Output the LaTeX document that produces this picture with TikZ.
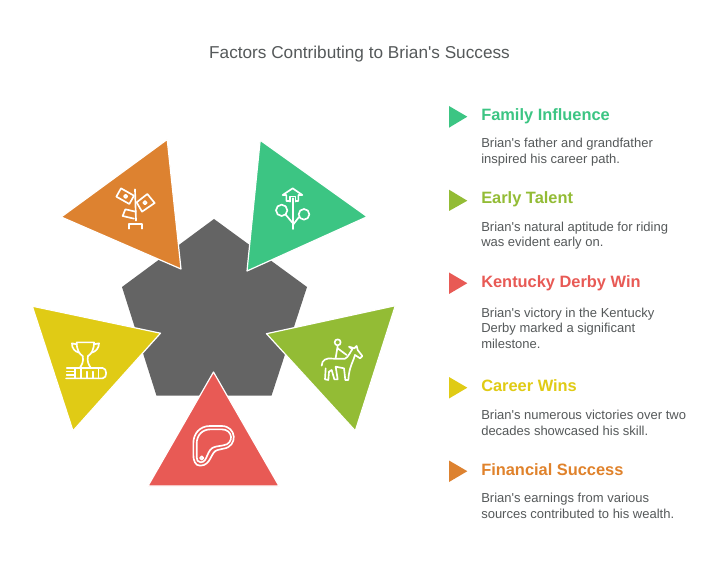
\documentclass[tikz,border=0pt]{standalone}
\usepackage{fontspec}
\setmainfont[Ligatures=TeXOff]{Liberation Sans}
\definecolor{cgreen}{HTML}{3CC583}
\definecolor{clime}{HTML}{93BC35}
\definecolor{cred}{HTML}{E85A55}
\definecolor{cyellow}{HTML}{E0CB15}
\definecolor{corange}{HTML}{DD8230}
\definecolor{cgrey}{HTML}{646464}
\definecolor{ctext}{HTML}{55595A}
\tikzset{
  tri/.style={draw=white,line width=0.9pt,line join=round},
  ico/.style={draw=white,line width=1.25pt,line cap=round,line join=round},
  icon/.style={x=0.25pt,y=-0.25pt},
  head/.style={anchor=base west,inner sep=0pt,font=\fontsize{12.3pt}{14pt}\selectfont\bfseries},
  body/.style={anchor=base west,inner sep=0pt,text=ctext,font=\fontsize{9.75pt}{11pt}\selectfont},
}
\begin{document}
\begin{tikzpicture}[x=0.75pt,y=-0.75pt]
\useasboundingbox (0,0) rectangle (720,584);
\fill[white] (0,0) rectangle (720,584);
\node[anchor=base,inner sep=0pt,text=ctext,font=\fontsize{12.9pt}{15pt}\selectfont] (title) at (359.5,58.5) {Factors Contributing to Brian's Success};
% pentagon
\fill[cgrey] (214,219) -- (307,287) -- (271.5,395.7) -- (156.5,395.7) -- (122,287) -- cycle;
% triangles
\filldraw[tri,fill=corange] (167.2,139.5) -- (61.2,217) -- (181,269) -- cycle;
\filldraw[tri,fill=cgreen] (260.2,140.2) -- (367.2,216.7) -- (247,271) -- cycle;
\filldraw[tri,fill=clime] (395.3,305.7) -- (355.3,430.8) -- (266.5,333.7) -- cycle;
\filldraw[tri,fill=cred] (213.5,372) -- (279,486) -- (148,486) -- cycle;
\filldraw[tri,fill=cyellow] (32.3,306.2) -- (73,430.8) -- (160.5,333.2) -- cycle;
% orange icon
\begin{scope}[shift={(60,130)},icon]
\draw[ico] (183,175) -- (222,197) -- (208,222) -- (169,200) -- cycle;
\draw[ico] (197,199) circle (5);
\draw[ico] (262,192) -- (284,219) -- (246,245) -- (230,217) -- cycle;
\draw[ico] (255,218) circle (5);
\draw[ico] (196,238) -- (227,245) (222,266) -- (188,258) -- (196,238);
\draw[ico] (225,178) -- (228,272);
\draw[ico] (206,296) -- (206,282) -- (245,282) -- (245,296);
\end{scope}
% green icon
\begin{scope}[shift={(245,135)},icon]
\draw[ico] (135,198) -- (124,198) -- (124,180) -- (113,180) -- (143,160) -- (172,180) -- (160,180) -- (160,198) -- (152,198);
\draw[ico] (135,200) -- (135,185) -- (151,185) -- (151,200);
\draw[ico] (143,190) -- (143,282);
\draw[ico] (110,226) circle (17);
\draw[ico] (177,238) circle (16);
\draw[ico] (122,239) -- (143,264);
\draw[ico] (162,246) -- (145,268);
\end{scope}
% lime icon
\begin{scope}[shift={(265,300)},icon]
\draw[ico] (218,127) circle (9);
\draw[ico] (218,138) -- (212,174);
\draw[ico] (218,145) -- (245,165);
\draw[ico] (170,197) .. controls (170,180) and (185,172) .. (205,176) -- (240,176) .. controls (250,172) and (256,155) .. (262,148) -- (252,140) -- (268,145) -- (275,138) -- (278,150) -- (292,168) -- (285,175) -- (270,165) .. controls (265,185) and (252,200) .. (250,240) -- (241,240) -- (237,205) -- (212,200) -- (218,238) -- (208,238) -- (200,210) -- (192,215) -- (190,240) -- (180,238) -- (182,205);
\end{scope}
% red icon
\begin{scope}[shift={(145,370)},icon]
\draw[ico] (165,287) .. controls (150,287) and (145,270) .. (145,255) -- (145,220) .. controls (145,190) and (165,168) .. (195,168) -- (230,168) .. controls (275,168) and (280,230) .. (235,236) -- (218,240) .. controls (196,244) and (200,287) .. (165,287) -- cycle;
\draw[ico] (155,262) -- (155,222) .. controls (155,195) and (172,178) .. (197,178) -- (230,178) .. controls (265,178) and (268,222) .. (235,226) -- (212,230) .. controls (183,235) and (190,277) .. (167,277) .. controls (158,277) and (155,270) .. (155,262) -- cycle;
\draw[ico] (170,264) circle (5);
\end{scope}
% yellow icon
\begin{scope}[shift={(30,300)},icon]
\draw[ico] (140,127) -- (192,127) (140,127) .. controls (140,150) and (148,162) .. (158,168) (192,127) .. controls (192,150) and (184,162) .. (174,168);
\draw[ico] (140,133) -- (126,130) .. controls (125,145) and (135,155) .. (147,158);
\draw[ico] (192,133) -- (207,130) .. controls (207,145) and (197,155) .. (185,158);
\draw[ico] (158,168) .. controls (162,185) and (155,195) .. (150,203) (174,168) .. controls (170,185) and (177,195) .. (182,203);
\draw[ico] (110,204) -- (218,204) .. controls (232,204) and (232,235) .. (218,235) -- (108,235);
\draw[ico] (110,214) -- (135,214) (110,225) -- (135,225) (135,204) -- (135,235);
\draw[ico] (152,204) -- (152,235) (170,215) -- (170,235) (188,215) -- (188,235) (205,204) -- (205,235);
\end{scope}
% legend markers
\fill[cgreen] (449,106) -- (467.3,116.7) -- (449,127.7) -- cycle;
\fill[clime] (449,189.7) -- (467.3,200.7) -- (449,211) -- cycle;
\fill[cred] (449,272.5) -- (467.3,283.2) -- (449,294) -- cycle;
\fill[cyellow] (449,377) -- (467.3,387.7) -- (449,398.5) -- cycle;
\fill[corange] (449,460.5) -- (467.3,471.2) -- (449,482) -- cycle;
% legend text
\node[head,text=cgreen] (h1) at (481,120.5) {Family Influence};
\node[body] (b1a) at (481,148) {Brian's father and grandfather};
\node[body] (b1b) at (481,163.5) {inspired his career path.};
\node[head,text=clime] (h2) at (481,204) {Early Talent};
\node[body] (b2a) at (481,231.5) {Brian's natural aptitude for riding};
\node[body] (b2b) at (481,247) {was evident early on.};
\node[head,text=cred] (h3) at (481,287.5) {Kentucky Derby Win};
\node[body] (b3a) at (481,317) {Brian's victory in the Kentucky};
\node[body] (b3b) at (481,332.5) {Derby marked a significant};
\node[body] (b3c) at (481,348) {milestone.};
\node[head,text=cyellow] (h4) at (481,391.5) {Career Wins};
\node[body] (b4a) at (481,419.5) {Brian's numerous victories over two};
\node[body] (b4b) at (481,435) {decades showcased his skill.};
\node[head,text=corange!90!orange] (h5) at (481,475) {Financial Success};
\node[body] (b5a) at (481,502.5) {Brian's earnings from various};
\node[body] (b5b) at (481,518) {sources contributed to his wealth.};
\end{tikzpicture}
\end{document}
